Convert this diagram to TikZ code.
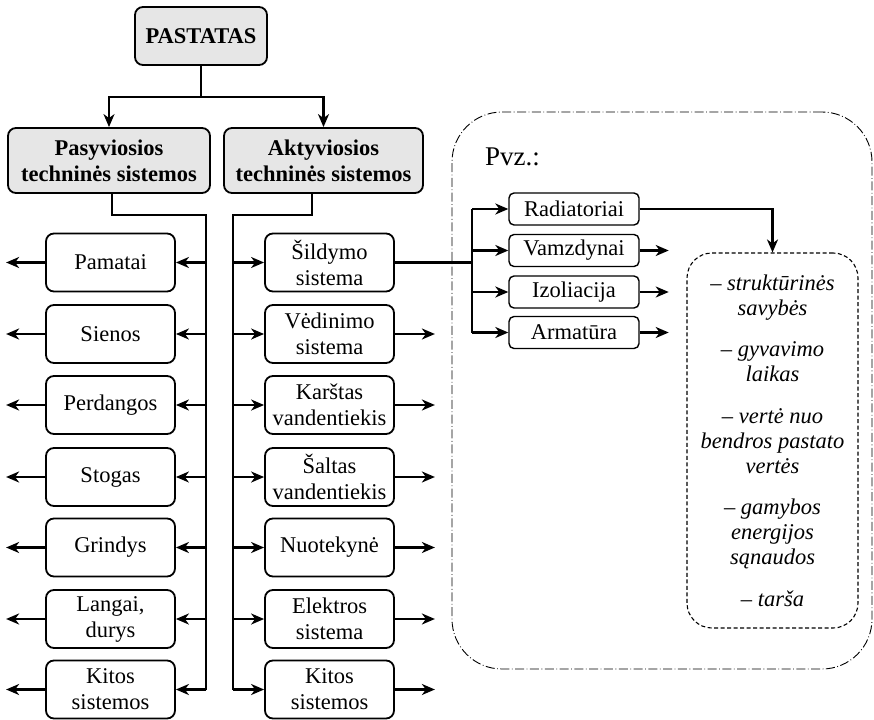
\documentclass[tikz,border=0pt]{standalone}
\usepackage{fontspec}
\setmainfont{Liberation Serif}
\usetikzlibrary{arrows.meta}
\definecolor{boxgray}{HTML}{E6E6E6}
\begin{document}
\begin{tikzpicture}[x=1pt,y=-1pt,
  every node/.style={font=\fontsize{22.5}{26}\selectfont, inner sep=0pt, align=center},
  box/.style={draw, line width=1.8pt, rounded corners=8pt, minimum width=129pt, minimum height=58pt},
  topbox/.style={box, fill=boxgray, font=\fontsize{22.5}{26}\selectfont\bfseries},
  smallbox/.style={draw, line width=1.4pt, rounded corners=5pt, minimum width=130pt, minimum height=32pt},
  conn/.style={line width=2.1pt},
  arr/.style={conn, -{Stealth[length=13pt,width=11pt,inset=4pt]}},
  heavy/.style={line width=3pt},
  frame/.style={draw, line width=0.9pt, dash pattern=on 9pt off 2.5pt on 0.8pt off 2.5pt, rounded corners=50pt},
  listbox/.style={draw, line width=1.1pt, dash pattern=on 4pt off 2.5pt, rounded corners=25pt},
]
\useasboundingbox (0,0) rectangle (874,719);

% example frame
\node[frame, minimum width=420pt, minimum height=557pt] (ex) at (662,390.5) {};
\node[anchor=base west, font=\fontsize{27}{30}\selectfont] (pvz) at (485,166) {Pvz.:};

% top level
\node[topbox, minimum width=132pt, minimum height=58pt] (top) at (201,36) {PASTATAS};
\node[topbox, minimum width=202pt, minimum height=65pt] (pas) at (109,160.5) {Pasyviosios\\techninės sistemos};
\node[topbox, minimum width=199pt, minimum height=65pt] (akt) at (323.5,160.5) {Aktyviosios\\techninės sistemos};

\coordinate (split) at (201,97);
\draw[arr] (top.south) -- (split) -| (pas.north);
\draw[arr] (split) -| (akt.north);

% passive column
\node[box] (l1) at (110.5,262.5) {Pamatai};
\node[box] (l2) at (110.5,334) {Sienos};
\node[box] (l3) at (110.5,405) {Perdangos};
\node[box] (l4) at (110.5,477) {Stogas};
\node[box] (l5) at (110.5,547.5) {Grindys};
\node[box] (l6) at (110.5,619) {Langai,\\durys};
\node[box] (l7) at (110.5,689.5) {Kitos\\sistemos};

% active column
\node[box] (m1) at (329.5,262.5) {Šildymo\\sistema};
\node[box] (m2) at (329.5,334) {Vėdinimo\\sistema};
\node[box] (m3) at (329.5,405) {Karštas\\vandentiekis};
\node[box] (m4) at (329.5,477) {Šaltas\\vandentiekis};
\node[box] (m5) at (329.5,547.5) {Nuotekynė};
\node[box] (m6) at (329.5,619) {Elektros\\sistema};
\node[box] (m7) at (329.5,689.5) {Kitos\\sistemos};

\coordinate (lturn) at (206,215);
\coordinate (rturn) at (233,215);
\draw[conn] (112,193) -- (112,215) -- (lturn) -- (lturn |- l7.east);
\draw[conn] (312,193) -- (312,215) -- (rturn) -- (rturn |- m7.west);

\foreach \i in {1,...,7} {
  \draw[arr] (lturn |- l\i.east) -- (l\i.east);
  \draw[arr] (l\i.west) -- ++(-39,0);
  \draw[arr] (rturn |- m\i.west) -- (m\i.west);
}
\foreach \i in {2,...,7} {
  \draw[arr] (m\i.east) -- ++(40,0);
}

% heating system parts
\node[smallbox] (r1) at (574,209) {Radiatoriai};
\node[smallbox] (r2) at (574,250.5) {Vamzdynai};
\node[smallbox] (r3) at (574,292) {Izoliacija};
\node[smallbox] (r4) at (574,332.5) {Armatūra};

\coordinate (fork) at (472,262.5);
\draw[heavy] (m1.east) -- (fork);
\draw[conn] (fork |- r1.west) -- (fork |- r4.west);
\foreach \i in {1,...,4} {
  \draw[arr] (fork |- r\i.west) -- (r\i.west);
}
\foreach \i in {2,...,4} {
  \draw[arr] (r\i.east) -- ++(29,0);
}

% properties
\node[listbox, minimum width=171pt, minimum height=375pt, font=\fontsize{22.5}{25}\selectfont\itshape] (props) at (772.5,440.5)
  {– struktūrinės\\savybės\\[16.5pt]– gyvavimo\\laikas\\[16.5pt]– vertė nuo\\bendros pastato\\vertės\\[16.5pt]– gamybos\\energijos\\sąnaudos\\[16.5pt]– tarša};
\draw[arr] (r1.east) -| (props.north);
\end{tikzpicture}
\end{document}
